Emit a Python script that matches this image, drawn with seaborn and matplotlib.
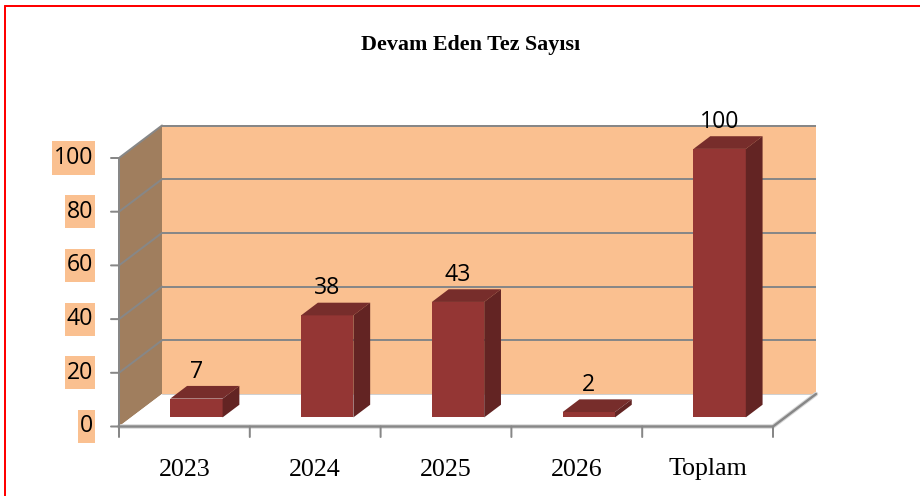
import matplotlib
matplotlib.use("Agg")
import matplotlib.pyplot as plt
from matplotlib.patches import Polygon
from matplotlib.lines import Line2D
from matplotlib.path import Path
import seaborn as sns
import pandas as pd

# ---- data ----
categories = ["2023", "2024", "2025", "2026", "Toplam"]
values = [7, 38, 43, 2, 100]
yticks = [0, 20, 40, 60, 80, 100]
title = "Devam Eden Tez Sayısı"

# ---- style ----
FRONT = "#943634"
TOP = "#772D2B"
SIDE = "#632423"
BACKWALL = "#FAC090"
SIDEWALL = "#A07E5E"
GRID = "#878787"
NUMFONT = "Open Sans"

W, H, DPI = 920, 496, 72
sns.set_theme(style="white")
fig = plt.figure(figsize=(W / DPI, H / DPI), dpi=DPI)
fig.patch.set_facecolor("white")

# geometry in pixels
X0, X1 = 119, 816       # front-left axis, back wall right edge
Y0, YT = 426.5, 124     # front zero line, back wall top
CATW = 130.8            # px per category
PXV = 2.685             # px per value unit
DXP, DYP = 43, 32.5     # depth offset (px)

ax = fig.add_axes([X0 / W, (H - Y0) / H, (X1 - X0) / W, (Y0 - YT) / H])
df = pd.DataFrame({"cat": categories, "val": values})
sns.barplot(data=df, x="cat", y="val", order=categories, color=FRONT,
            saturation=1, width=0.4, ax=ax, zorder=5)
bars = [pp for pp in ax.patches]

xmin = -0.5
ax.set_xlim(xmin, xmin + (X1 - X0) / CATW)
ax.set_ylim(0, (Y0 - YT) / PXV)
ax.set_axis_off()

DXD = DXP / CATW
DYD = DYP / PXV
n = len(categories)
xmax = xmin + n


def P(x, y, f):
    return (x + DXD * f, y + DYD * f)


def label_box(x0, y0, width, height, mutation_size):
    px = 0.07 * mutation_size
    py = 0.2 * mutation_size
    x0, y0 = x0 - px, y0 - py
    x1, y1 = x0 + width + 2 * px, y0 + height + 2 * py
    return Path([(x0, y0), (x1, y0), (x1, y1), (x0, y1), (x0, y0)], closed=True)


vmax = yticks[-1]
# back wall
ax.add_patch(Polygon([P(xmin, 0, 1), P(xmax, 0, 1), P(xmax, vmax, 1), P(xmin, vmax, 1)],
                     closed=True, fc=BACKWALL, ec="none", zorder=0))
# side wall
ax.add_patch(Polygon([P(xmin, 0, 0), P(xmin, vmax, 0), P(xmin, vmax, 1), P(xmin, 0, 1)],
                     closed=True, fc=SIDEWALL, ec="none", zorder=0))
# floor
ax.add_patch(Polygon([P(xmin, 0, 0), P(xmax, 0, 0), P(xmax, 0, 1), P(xmin, 0, 1)],
                     closed=True, fc="white", ec="none", zorder=1))
# gridlines
for v in yticks[1:]:
    a, b = P(xmin, v, 1), P(xmax, v, 1)
    ax.plot([a[0], b[0]], [a[1], b[1]], color=GRID, lw=2, zorder=2, solid_capstyle="butt")
    c = P(xmin, v, 0)
    ax.plot([c[0], a[0]], [c[1], a[1]], color=GRID, lw=2, zorder=2)
# floor back edge (faint)
a, b = P(xmin, 0, 1), P(xmax, 0, 1)
ax.plot([a[0], b[0]], [a[1], b[1]], color="#D0D0D0", lw=1, zorder=2)
# floor front & right edges (with light shadow)
a, b, c = P(xmin, 0, 0), P(xmax, 0, 0), P(xmax, 0, 1)
ax.plot([a[0], b[0], c[0]], [a[1], b[1], c[1]], color="#D8D8D8", lw=4.5, zorder=3,
        clip_on=False, solid_joinstyle="miter")
ax.plot([a[0], b[0], c[0]], [a[1], b[1], c[1]], color=GRID, lw=2.4, zorder=3,
        clip_on=False, solid_joinstyle="miter")
# vertical axis
ax.plot([xmin, xmin], [0, vmax], color=GRID, lw=2, zorder=3, clip_on=False)

# tick marks (value axis)
for v in yticks:
    ax.annotate("", xy=(xmin, v), xytext=(-8, 0), textcoords="offset points",
                arrowprops=dict(arrowstyle="-", color=GRID, lw=2,
                                shrinkA=0, shrinkB=0), zorder=3)
    ax.annotate(str(v), xy=(xmin, v), xytext=(-26, 0), textcoords="offset points",
                ha="right", va="center", fontsize=23, family=NUMFONT, color="black",
                bbox=dict(boxstyle=label_box, fc=BACKWALL, ec="none"))
# category ticks
for i in range(n + 1):
    ax.annotate("", xy=(xmin + i, 0), xytext=(0, -10.5), textcoords="offset points",
                arrowprops=dict(arrowstyle="-", color=GRID, lw=2,
                                shrinkA=0, shrinkB=0), zorder=3)
for i, c in enumerate(categories):
    ax.annotate(c, xy=(i, 0), xytext=(0, -43), textcoords="offset points",
                ha="center", va="center", fontsize=26, family="Liberation Serif",
                color="black")

# 3D bars
F0, F1 = 0.28, 0.67
for p, v in zip(bars, values):
    x0 = p.get_x()
    w = p.get_width()
    h = p.get_height()
    p.set_x(x0 + DXD * F0)
    p.set_y(p.get_y() + DYD * F0)
    p.set_edgecolor("none")
    x1 = x0 + w
    ax.add_patch(Polygon([P(x0, h, F0), P(x1, h, F0), P(x1, h, F1), P(x0, h, F1)],
                         closed=True, fc=TOP, ec="none", zorder=5))
    ax.add_patch(Polygon([P(x1, 0, F0), P(x1, h, F0), P(x1, h, F1), P(x1, 0, F1)],
                         closed=True, fc=SIDE, ec="none", zorder=5))
    cx, cy = P(x0 + w / 2, h, F0)
    ax.annotate(f"{v:g}", xy=(cx, cy), xytext=(0, 27), textcoords="offset points",
                ha="center", va="center", fontsize=23, family=NUMFONT, color="black",
                zorder=6)

# title
fig.text(471 / W, 1 - 45 / H, title, ha="center", va="center", fontsize=22,
         family="Liberation Serif", fontweight="bold", color="black")

# red border (top & left)
fig.add_artist(Line2D([4.5 / W, 1], [1 - 5.5 / H, 1 - 5.5 / H], transform=fig.transFigure,
                      color="#FF0000", lw=2))
fig.add_artist(Line2D([4.5 / W, 4.5 / W], [1 - 5.5 / H, 0], transform=fig.transFigure,
                      color="#FF0000", lw=2))

fig.savefig("out.png", dpi=DPI, facecolor="white")
